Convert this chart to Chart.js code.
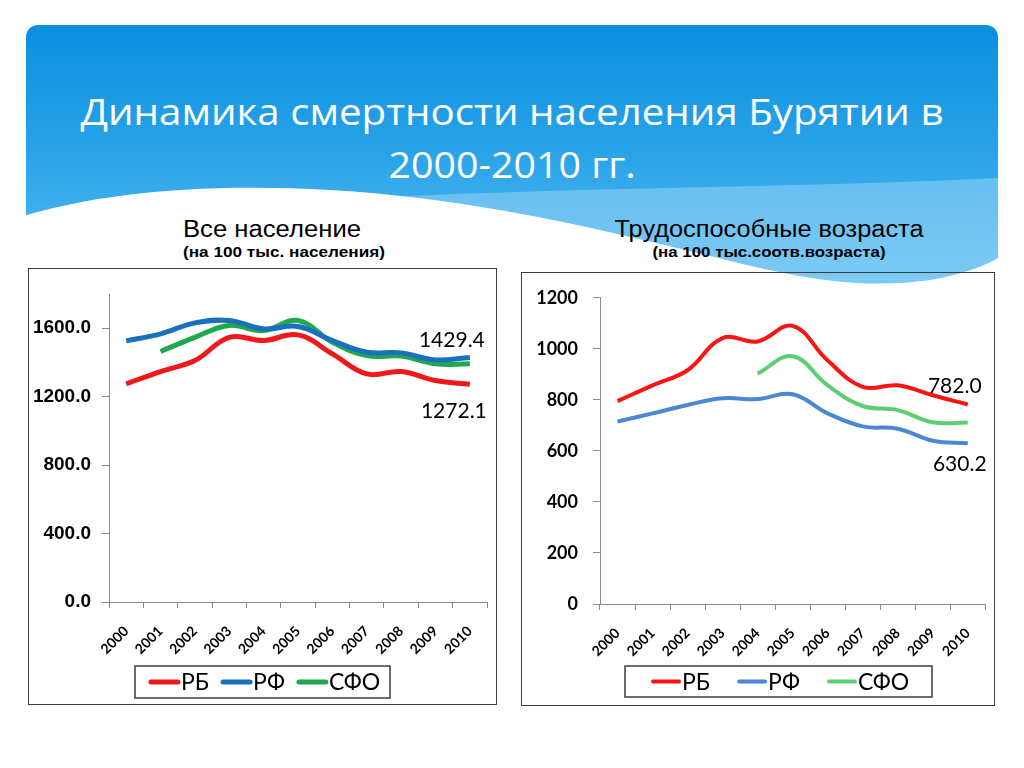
<!DOCTYPE html>
<html>
<head>
<meta charset="utf-8">
<script src="https://cdn.jsdelivr.net/npm/chart.js@4.4.0/dist/chart.umd.min.js"></script>
<style>
    body{margin:0;background:#fff;}
    #page{position:relative;width:1024px;height:768px;overflow:hidden;background:#fff;}
    #bg{position:absolute;left:0;top:0;}
    .box{position:absolute;border:1.5px solid #3c3c3c;box-sizing:border-box;}
    canvas{position:absolute;}
</style>
</head>
<body>
<div id="page">
    <svg id="bg" width="1024" height="768">
        <defs>
            <linearGradient id="hdr" x1="0" y1="25" x2="0" y2="290" gradientUnits="userSpaceOnUse">
                <stop offset="0" stop-color="#0a8fdf"/>
                <stop offset="0.5" stop-color="#2ba4e9"/>
                <stop offset="1" stop-color="#5dbdf1"/>
            </linearGradient>
        </defs>
        <rect x="26" y="25" width="972" height="275" rx="12" fill="url(#hdr)"/>
        <path d="M330,200 C520,188 800,188 998,178 L998,310 L330,310 Z" fill="#a6dcf8" opacity="0.45"/>
        <path d="M20,217 C100,193 200,183 330,190 C500,200 640,240 760,268 C830,284 880,287 930,280 C960,275 985,266 998,258 L998,320 L20,320 Z" fill="#fff"/>
        <text x="512" y="125" text-anchor="middle" font-family="Open Sans" font-size="37" fill="#fff"
              textLength="863" lengthAdjust="spacingAndGlyphs">Динамика смертности населения Бурятии в</text>
        <text x="512" y="178" text-anchor="middle" font-family="Open Sans" font-size="37" fill="#fff"
              textLength="247" lengthAdjust="spacingAndGlyphs">2000-2010 гг.</text>
        <text x="272" y="237" text-anchor="middle" font-family="Liberation Sans" font-size="23" fill="#000"
              textLength="178" lengthAdjust="spacingAndGlyphs">Все население</text>
        <text x="284" y="257" text-anchor="middle" font-family="Liberation Sans" font-weight="bold" font-size="14" fill="#000"
              textLength="202" lengthAdjust="spacingAndGlyphs">(на 100 тыс. населения)</text>
        <text x="769" y="237" text-anchor="middle" font-family="Liberation Sans" font-size="23" fill="#000"
              textLength="309" lengthAdjust="spacingAndGlyphs">Трудоспособные возраста</text>
        <text x="769" y="257" text-anchor="middle" font-family="Liberation Sans" font-weight="bold" font-size="14" fill="#000"
              textLength="233" lengthAdjust="spacingAndGlyphs">(на 100 тыс.соотв.возраста)</text>
    </svg>
    <div class="box" style="left:28px;top:268px;width:469px;height:437px;"></div>
    <div class="box" style="left:521px;top:272px;width:474px;height:434px;"></div>
    <canvas id="all_canvas" width="469" height="437" style="left:28px;top:268px;"></canvas>
    <canvas id="work_canvas" width="474" height="434" style="left:521px;top:272px;"></canvas>
</div>
<script>
const years = ['2000','2001','2002','2003','2004','2005','2006','2007','2008','2009','2010'];
const seriesNames = ['РБ','РФ','СФО'];

// все население, на 100 тыс.
const rbAll  = [1275, 1347, 1411, 1547, 1528, 1561, 1450, 1333, 1347, 1294, 1272.1];
const rfAll  = [1526, 1567, 1631, 1645, 1596, 1610, 1528, 1460, 1456, 1415, 1429.4];
const sfoAll = [null, 1464, 1547, 1616, 1586, 1645, 1518, 1440, 1437, 1392, 1392];

// трудоспособные возраста
const rbWork  = [795, 857, 916, 1042, 1029, 1090, 954, 851, 857, 818, 782.0];
const rfWork  = [715, 747, 780, 806, 803, 822, 747, 696, 687, 640, 630.2];
const sfoWork = [null, null, null, null, 903, 971, 857, 776, 760, 712, 711];

const allMax = 1800, allStep = 400;
const workMax = 1200, workStep = 200;

// value label next to the last point
const endLabel = {
    id: 'endLabel',
    afterDatasetsDraw(chart, args, opts){
        const ctx = chart.ctx;
        chart.data.datasets.forEach(function(ds, i){
            if(!ds.endLabel) return;
            const meta = chart.getDatasetMeta(i);
            const last = meta.data.length - 1;
            const pt = meta.data[last];
            ctx.save();
            ctx.font = opts.font;
            ctx.fillStyle = '#000';
            ctx.textAlign = 'center';
            ctx.textBaseline = 'middle';
            ctx.fillText(ds.data[last].toFixed(1), pt.x + ds.endLabel.dx, pt.y + ds.endLabel.dy);
            ctx.restore();
        });
    }
};

// legend inside a framed box under the axis
const boxLegend = {
    id: 'boxLegend',
    afterDraw(chart, args, opts){
        const ctx = chart.ctx;
        ctx.save();
        ctx.strokeStyle = '#3c3c3c';
        ctx.lineWidth = 1.5;
        ctx.strokeRect(opts.x, opts.y, opts.w, opts.h);
        ctx.font = opts.font;
        ctx.textBaseline = 'middle';
        let x = opts.startX;
        const cy = opts.y + opts.h / 2;
        chart.data.datasets.forEach(function(ds){
            ctx.strokeStyle = ds.borderColor;
            ctx.lineWidth = ds.borderWidth;
            ctx.lineCap = 'round';
            ctx.beginPath();
            ctx.moveTo(x + 2, cy);
            ctx.lineTo(x + opts.lineLen - 2, cy);
            ctx.stroke();
            x += opts.lineLen + 1;
            ctx.fillStyle = '#000';
            ctx.fillText(ds.label, x, cy + 1);
            x += ctx.measureText(ds.label).width + opts.gap;
        });
        ctx.restore();
    }
};

function createChart(canvasId, sets, colors, yOpts, layoutOpts){
    const datasets = sets.map(function(s, i){
        return {
            label: seriesNames[i],
            data: s.data,
            borderColor: colors[i],
            backgroundColor: colors[i],
            borderWidth: layoutOpts.lineWidth,
            pointRadius: 0,
            tension: 0.4,
            fill: false,
            endLabel: s.endLabel
        };
    });

    const config = {
        type: 'line',
        data: { labels: years, datasets: datasets },
        options: {
            responsive: false,
            animation: false,
            layout: { padding: layoutOpts.padding },
            plugins: {
                legend: { display: false },
                tooltip: { enabled: false },
                endLabel: { font: layoutOpts.labelFont },
                boxLegend: layoutOpts.legend
            },
            scales: {
                x: {
                    offset: true,
                    afterFit: function(scale){ scale.height = 60; },
                    grid: {
                        offset: true,
                        drawOnChartArea: false,
                        tickLength: 6,
                        color: '#8a8a8a'
                    },
                    border: { color: '#8a8a8a' },
                    ticks: {
                        autoSkip: false,
                        minRotation: 45,
                        maxRotation: 45,
                        padding: 15,
                        color: '#000',
                        font: { family: 'Lato', size: 14, weight: 'bold' }
                    }
                },
                y: {
                    min: 0,
                    max: yOpts.max,
                    afterFit: function(scale){ scale.width = layoutOpts.yWidth; },
                    afterBuildTicks: function(scale){
                        scale.ticks = scale.ticks.filter(function(t){ return t.value % yOpts.step === 0; });
                    },
                    grid: {
                        drawOnChartArea: false,
                        tickLength: 7,
                        color: '#8a8a8a'
                    },
                    border: { color: '#8a8a8a' },
                    ticks: {
                        stepSize: yOpts.step,
                        padding: layoutOpts.yPad,
                        color: '#000',
                        font: layoutOpts.yFont,
                        callback: function(value){ return value.toFixed(yOpts.digits); }
                    }
                }
            }
        },
        plugins: [endLabel, boxLegend]
    };
    return new Chart(document.getElementById(canvasId), config);
}

createChart('all_canvas',
    [
        { data: rbAll, endLabel: { dx: -16, dy: 27 } },
        { data: rfAll, endLabel: { dx: -18, dy: -17 } },
        { data: sfoAll }
    ],
    ['#f01818', '#1b6fbf', '#1ea94f'],
    { max: allMax, step: allStep, digits: 1 },
    {
        padding: { left: 1, right: 6, top: 26, bottom: 43 },
        yWidth: 80,
        yPad: 11,
        lineWidth: 5,
        yFont: { family: 'Liberation Sans', size: 19, weight: 'bold' },
        labelFont: '21px Lato',
        legend: { x: 107, y: 398, w: 255, h: 32, startX: 121, lineLen: 31, gap: 12, font: '23px Lato' }
    }
);

createChart('work_canvas',
    [
        { data: rbWork, endLabel: { dx: -13, dy: -18 } },
        { data: rfWork, endLabel: { dx: -8, dy: 21 } },
        { data: sfoWork }
    ],
    ['#fa1414', '#4a88d6', '#5fce72'],
    { max: workMax, step: workStep, digits: 0 },
    {
        padding: { left: 0, right: 8, top: 23, bottom: 42 },
        yWidth: 79,
        yPad: 15,
        lineWidth: 4,
        yFont: { family: 'Lato', size: 18, weight: 'bold' },
        labelFont: '21px Lato',
        legend: { x: 104, y: 394, w: 307, h: 31, startX: 130, lineLen: 30, gap: 27, font: '23px Lato' }
    }
);
</script>
</body>
</html>
